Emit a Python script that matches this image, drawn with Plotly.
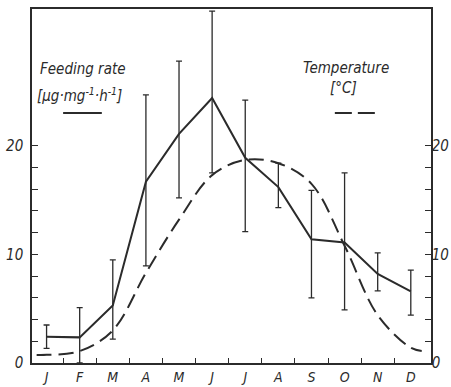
import plotly.graph_objects as go

months = ["J", "F", "M", "A", "M", "J", "J", "A", "S", "O", "N", "D"]
month_idx = list(range(12))

feeding = [2.42, 2.36, 5.3, 16.7, 21.1, 24.4, 18.9, 16.2, 11.4, 11.1, 8.2, 6.6]
feed_hi = [3.5, 5.1, 9.5, 24.7, 27.8, 32.4, 24.2, 18.4, 15.9, 17.5, 10.15, 8.55]
feed_lo = [1.35, 0.0, 2.2, 8.95, 15.2, 17.5, 12.1, 14.3, 6.0, 4.9, 6.65, 4.4]

temp_x = [-0.3, 0, 1, 2, 3, 4, 5, 6, 7, 8, 9, 10, 11, 11.33]
temp = [0.74, 0.75, 1.1, 3.0, 8.3, 13.2, 17.3, 18.7, 18.4, 16.5, 10.8, 4.4, 1.4, 1.1]

y_major = [0, 10, 20]
y_major_labels = ["0", "10", "20"]
y_minor = [2, 4, 6, 8, 12, 14, 16, 18]
boundaries = [i + 0.5 for i in range(11)]

INK = "#2b2b2b"
FONT = dict(family="Liberation Sans Narrow, DejaVu Sans Condensed, sans-serif", size=15, color=INK, style="italic")
XFONT = dict(FONT, size=14)

err_plus = [h - v for h, v in zip(feed_hi, feeding)]
err_minus = [v - l for v, l in zip(feeding, feed_lo)]

fig = go.Figure()
fig.add_trace(go.Scatter(
    x=month_idx, y=feeding, mode="lines",
    line=dict(color=INK, width=2),
    error_y=dict(type="data", symmetric=False, array=err_plus, arrayminus=err_minus,
                 color=INK, thickness=1.3, width=3),
    showlegend=False, cliponaxis=False,
))
fig.add_trace(go.Scatter(
    x=temp_x, y=temp, mode="lines", yaxis="y2",
    line=dict(color=INK, width=2, dash="15px,7px", shape="spline", smoothing=1.0),
    showlegend=False,
))

x_range = [-0.44, 11.61]
y_range = [0, 32.6]

y_common = dict(range=y_range, showgrid=False, zeroline=False, automargin=False,
                showline=True, linecolor=INK, linewidth=1.5,
                tickmode="array", tickvals=y_major, ticktext=y_major_labels,
                ticks="inside", ticklen=6, tickcolor=INK, tickwidth=1.2, tickfont=FONT,
                minor=dict(tickmode="array", tickvals=y_minor, ticks="inside",
                           ticklen=6, tickcolor=INK, tickwidth=1.2, showgrid=False))

fig.update_layout(
    width=451, height=387,
    margin=dict(l=32, r=20, t=9, b=24, autoexpand=False),
    paper_bgcolor="white", plot_bgcolor="white",
    font=FONT,
    xaxis=dict(range=x_range, showgrid=False, zeroline=False, automargin=False,
               showline=True, linecolor=INK, linewidth=1.5, mirror=True,
               tickmode="array", tickvals=month_idx, ticktext=months,
               ticks="", ticklen=0, tickfont=XFONT,
               minor=dict(tickmode="array", tickvals=boundaries, ticks="inside",
                          ticklen=5, tickcolor=INK, tickwidth=1.2, showgrid=False)),
    yaxis=dict(y_common, ticklabelstandoff=4),
    yaxis2=dict(y_common, overlaying="y", side="right", ticklabelstandoff=-4),
)

# legend texts
fig.add_annotation(text="Feeding rate", xref="paper", yref="paper", x=0.015, y=0.83,
                   xanchor="left", yanchor="middle", showarrow=False, font=FONT)
fig.add_annotation(text="[µg·mg<sup>-1</sup>·h<sup>-1</sup>]", xref="paper", yref="paper",
                   x=0.008, y=0.757, xanchor="left", yanchor="middle", showarrow=False, font=FONT)
fig.add_annotation(text="Temperature", xref="paper", yref="paper", x=0.788, y=0.833,
                   xanchor="center", yanchor="middle", showarrow=False, font=FONT)
fig.add_annotation(text="[°C]", xref="paper", yref="paper", x=0.78, y=0.777,
                   xanchor="center", yanchor="middle", showarrow=False, font=FONT)
# legend line samples
fig.add_shape(type="line", xref="paper", yref="paper", x0=0.078, x1=0.175, y0=0.706, y1=0.706,
              line=dict(color=INK, width=2))
fig.add_shape(type="line", xref="paper", yref="paper", x0=0.759, x1=0.862, y0=0.706, y1=0.706,
              line=dict(color=INK, width=2, dash="17px,6px"))

fig.write_html("out.html", config={"displayModeBar": False},
               post_script="document.body.style.margin='0';document.body.style.overflow='hidden';")
